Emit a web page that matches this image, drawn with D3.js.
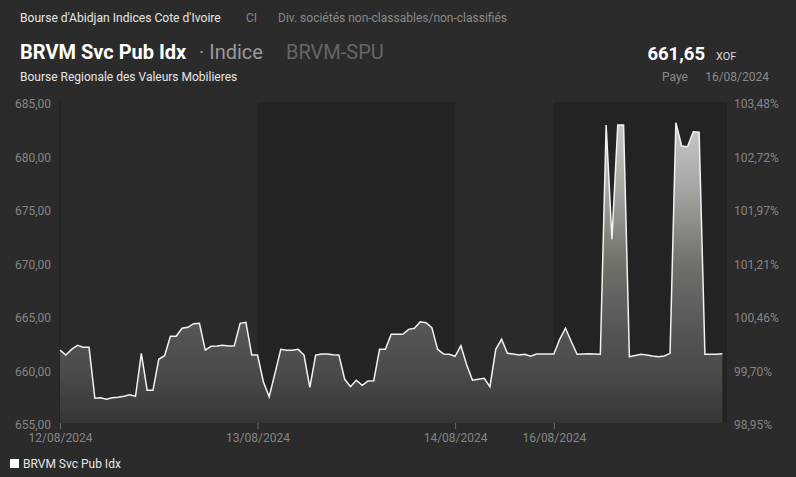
<!DOCTYPE html>
<html><head><meta charset="utf-8">
<script src="https://cdn.jsdelivr.net/npm/d3@7"></script>
<style>
html,body{margin:0;padding:0;background:#2b2b2b;}
svg{display:block;font-family:Roboto,"Noto Sans",sans-serif;}
</style></head>
<body>
<svg id="chart" width="796" height="477"></svg>
<script>
// ---- data ----
const dayLabels = ["12/08/2024","13/08/2024","14/08/2024","16/08/2024"];
const dayStartIndex = [0, 34, 68, 85];
const values = [
 662.00,661.54,662.07,662.45,662.26,662.26,657.50,657.55,657.40,657.55,
 657.59,657.68,657.83,657.68,661.70,658.24,658.24,661.14,661.48,663.29,
 663.29,664.04,664.13,664.47,664.50,662.00,662.35,662.38,662.45,662.38,
 662.41,664.50,664.60,661.54,661.54,659.05,657.64,659.83,662.07,661.98,
 661.98,662.07,661.54,658.52,661.54,661.64,661.64,661.57,661.54,659.27,
 658.58,659.18,658.71,659.11,659.14,662.07,662.07,663.48,663.48,663.48,
 663.94,664.04,664.65,664.56,664.09,662.07,661.64,661.61,661.42,662.41,
 660.61,659.18,659.27,659.36,658.58,662.07,663.01,661.70,661.64,661.54,
 661.61,661.42,661.64,661.64,661.64,661.64,663.01,664.04,662.80,661.61,
 661.64,661.66,661.64,661.61,683.04,672.36,683.04,683.04,661.38,661.50,
 661.61,661.55,661.45,661.38,661.45,661.70,683.25,681.07,681.00,682.41,
 682.36,661.61,661.61,661.61,661.65
];
const yTicks = [655,660,665,670,675,680,685];
const refValue = 661.97;
const lastValue = "661,65";
const lastDate = "16/08/2024";
const seriesName = "BRVM Svc Pub Idx";

// ---- layout ----
const svg = d3.select("#chart");
const W = 796, H = 477;
const plotL = 60, plotR = 727, plotT = 102, plotB = 423;
const xMax = 114.8;
const x = d3.scaleLinear().domain([0, xMax]).range([plotL, plotR]);
const y = d3.scaleLinear().domain([655, 685]).range([425, 104]);

svg.append("rect").attr("width", W).attr("height", H).attr("fill", "#2b2b2b");

// alternating day bands
const bandEnds = dayStartIndex.slice(1).concat([xMax]);
svg.append("g").selectAll("rect").data(dayStartIndex).join("rect")
  .attr("x", (d) => x(d))
  .attr("width", (d, i) => x(bandEnds[i]) - x(d))
  .attr("y", plotT).attr("height", plotB - plotT)
  .attr("fill", (d, i) => i % 2 ? "#232323" : "#2a2a2a");

svg.append("line").attr("x1", plotL).attr("x2", plotL).attr("y1", plotT).attr("y2", plotB)
  .attr("stroke", "#1f1f1f").attr("stroke-width", 1);

// gradient
const defs = svg.append("defs");
const grad = defs.append("linearGradient").attr("id", "ag")
  .attr("gradientUnits", "userSpaceOnUse")
  .attr("x1", 0).attr("x2", 0).attr("y1", plotT).attr("y2", plotB);
[[0, "#d2d2d2"], [0.25, "#a9aaa6"], [0.5, "#6f7269"], [0.72, "#545456"], [0.85, "#4a4a4a"], [1, "#353535"]]
  .forEach(([o, c]) => grad.append("stop").attr("offset", o).attr("stop-color", c));

const area = d3.area().x((d, i) => x(i)).y0(plotB).y1((d) => y(d));
const line = d3.line().x((d, i) => x(i)).y((d) => y(d));

svg.append("path").datum(values).attr("d", area).attr("fill", "url(#ag)");
svg.append("path").datum(values).attr("d", line).attr("fill", "none")
  .attr("stroke", "#f2f2f2").attr("stroke-width", 1.5).attr("stroke-linejoin", "miter");

// left axis
const fmtNum = (v) => v.toFixed(2).replace(".", ",");
const axisColor = "#858585";
const yl = svg.append("g").attr("transform", `translate(${plotL},0)`)
  .call(d3.axisLeft(y).tickValues(yTicks).tickSize(0).tickPadding(9).tickFormat(fmtNum));
yl.select(".domain").remove();
yl.selectAll("text").attr("fill", axisColor).attr("font-size", 12).attr("font-family", "Roboto");

// right axis (percent of reference)
const yr = svg.append("g").attr("transform", `translate(${plotR},0)`)
  .call(d3.axisRight(y).tickValues(yTicks).tickSize(0).tickPadding(7)
    .tickFormat((v) => (v / refValue * 100).toFixed(2).replace(".", ",") + "%"));
yr.select(".domain").remove();
yr.selectAll("text").attr("fill", axisColor).attr("font-size", 12).attr("font-family", "Roboto");

// x axis with day ticks
const xa = svg.append("g").attr("transform", `translate(0,${plotB})`)
  .call(d3.axisBottom(x).tickValues(dayStartIndex).tickSize(6).tickPadding(4)
    .tickFormat((d, i) => dayLabels[i]));
xa.select(".domain").remove();
xa.selectAll("line").attr("stroke", "#6a6a6a");
xa.selectAll("text").attr("fill", axisColor).attr("font-size", 12).attr("font-family", "Roboto");

// header
const t = (txt, xx, yy, size, color, weight, anchor) =>
  svg.append("text").attr("x", xx).attr("y", yy).attr("font-size", size)
    .attr("fill", color).attr("font-weight", weight || 400)
    .attr("text-anchor", anchor || "start").text(txt);

t("Bourse d'Abidjan Indices Cote d'Ivoire", 20, 22, 12.1, "#e6e6e6");
t("CI", 246, 22, 12, "#8a8a8a");
t("Div. sociétés non-classables/non-classifiés", 278, 22, 12, "#8a8a8a");
t(seriesName, 20, 59, 20, "#ffffff", 700);
t("· Indice", 199, 59, 20, "#9a9a9a");
t("BRVM-SPU", 286, 59, 20, "#666666");
t("Bourse Regionale des Valeurs Mobilieres", 20, 81, 12, "#e6e6e6");
t(lastValue, 705, 60, 18.5, "#ffffff", 700, "end");
t("XOF", 716, 60, 11, "#d8d8d8");
t("Paye", 662, 81, 12, "#8a8a8a");
t(lastDate, 769, 81, 12, "#8a8a8a", 400, "end");

// legend
svg.append("rect").attr("x", 10).attr("y", 459).attr("width", 9).attr("height", 9).attr("fill", "#ffffff");
t(seriesName, 23, 468, 12, "#e6e6e6");
</script>
</body></html>
